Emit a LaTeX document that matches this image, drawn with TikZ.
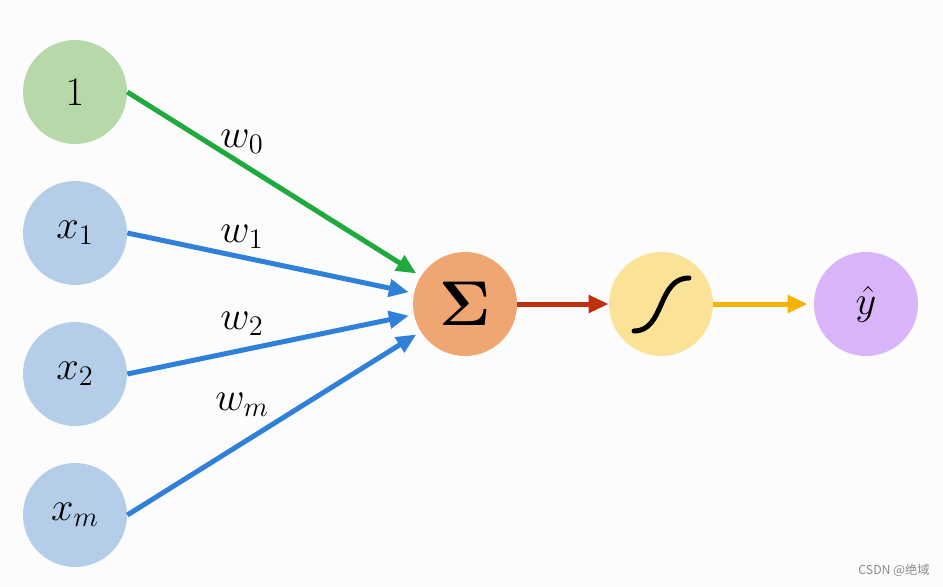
\RequirePackage{fix-cm}
\documentclass[tikz,border=0pt]{standalone}
\usepackage{amsmath}
\usepackage[no-math]{fontspec}
\newfontfamily\cjkfont{Noto Sans CJK SC}
\usetikzlibrary{arrows.meta}
\definecolor{paper}{RGB}{251,252,251}
\definecolor{biasfill}{RGB}{183,216,168}
\definecolor{inputfill}{RGB}{180,206,233}
\definecolor{sumfill}{RGB}{240,166,114}
\definecolor{actfill}{RGB}{251,226,150}
\definecolor{outfill}{RGB}{217,180,248}
\definecolor{biasline}{RGB}{30,170,60}
\definecolor{inputline}{RGB}{47,128,217}
\definecolor{sumline}{RGB}{192,48,14}
\definecolor{actline}{RGB}{246,179,0}
\tikzset{
  neuron/.style={circle,minimum size=2.08cm,inner sep=0pt,
    font=\fontsize{23}{27}\selectfont},
  biasnode/.style={neuron,fill=biasfill},
  inputnode/.style={neuron,fill=inputfill},
  sumnode/.style={neuron,fill=sumfill,font=\fontsize{36}{40}\selectfont},
  actnode/.style={neuron,fill=actfill},
  outnode/.style={neuron,fill=outfill},
  weightarrow/.style={-{Triangle[length=0.4cm,width=0.34cm]},line width=0.1cm,
    shorten >=0.1cm},
  outarrow/.style={-{Triangle[length=0.4cm,width=0.34cm]},line width=0.1cm},
  weightlabel/.style={font=\fontsize{23}{27}\selectfont},
  sigmoidcurve/.style={line width=0.1cm,line cap=round}
}
\begin{document}
\begin{tikzpicture}[x=0.02cm,y=-0.02cm]
  \fill[paper] (0,0) rectangle (943,586);
  \useasboundingbox (0,0) rectangle (943,586);
  % inputs
  \node[biasnode] (one) at (75,92) {$1$};
  \node[inputnode] (xa) at (75,233) {$x_1$};
  \node[inputnode] (xb) at (75,374) {$x_2$};
  \node[inputnode] (xm) at (75,515) {$x_m$};
  % sum, activation, output
  \node[sumnode] (sum) at (465,304) {$\boldsymbol{\Sigma}$};
  \node[actnode] (act) at (661,304) {};
  \node[outnode] (yhat) at (866,304) {$\hat{y}$};
  \draw[weightarrow,draw=biasline] (one.east) -- (sum);
  \foreach \src in {xa,xb,xm}
    \draw[weightarrow,draw=inputline] (\src.east) -- (sum);
  \node[weightlabel] (wzero) at (242,142) {$w_0$};
  \node[weightlabel] (wone) at (242,237) {$w_1$};
  \node[weightlabel] (wtwo) at (242,324) {$w_2$};
  \node[weightlabel] (wem) at (242,405) {$w_m$};
  \draw[outarrow,draw=sumline] (sum) -- (act);
  \draw[outarrow,draw=actline,shorten >=0.12cm] (act) -- (yhat);
  \draw[sigmoidcurve] ([shift={(-27,27)}]act.center)
    .. controls ([shift={(4,27)}]act.center) and ([shift={(-4,-26)}]act.center)
    .. ([shift={(28,-26)}]act.center);
  \node[font=\cjkfont\fontsize{7}{8}\selectfont,text=black!45] (mark) at (894,570)
    {CSDN @绝域};
\end{tikzpicture}
\end{document}
